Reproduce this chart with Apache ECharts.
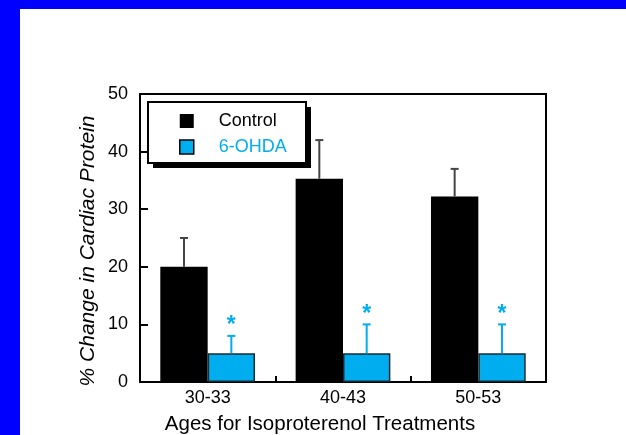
<!DOCTYPE html>
<html>
<head>
<meta charset="utf-8">
<script src="https://cdn.jsdelivr.net/npm/echarts@6/dist/echarts.min.js"></script>
<style>html,body{margin:0;padding:0;background:#fff}#c{width:626px;height:435px}</style>
</head>
<body>
<div id="c"></div>
<script>
const categories = ['30-33', '40-43', '50-53'];
const controlValues = [20, 35.3, 32.2];
const controlUpper = [25, 42, 37];
const ohdaValues = [5, 5, 5];
const ohdaUpper = [8, 10, 10];
const yMin = 0, yMax = 50, yInterval = 10;

const CYAN = '#00AEEF';
const FONT = 'Liberation Sans, Arial, sans-serif';

function errRender(offsetFrac, color, star) {
  return function (params, api) {
    const i = api.value(0);
    const base = api.coord([i, api.value(1)]);
    const top = api.coord([i, api.value(2)]);
    const band = api.size([1, 0])[0];
    const x = base[0] + offsetFrac * band;
    const children = [
      { type: 'line', shape: { x1: x, y1: base[1], x2: x, y2: top[1] }, style: { stroke: color, lineWidth: 2 } },
      { type: 'line', shape: { x1: x - 4, y1: top[1], x2: x + 4, y2: top[1] }, style: { stroke: color, lineWidth: 2 } }
    ];
    if (star) {
      children.push({ type: 'text', style: { text: '*', x: x, y: top[1] - 10, fill: color, fontSize: 23, fontWeight: 'bold', fontFamily: FONT, align: 'center', verticalAlign: 'middle' } });
    }
    return { type: 'group', children: children };
  };
}

const chart = echarts.init(document.getElementById('c'), null, { renderer: 'canvas' });
chart.setOption({
  animation: false,
  backgroundColor: '#fff',
  grid: { left: 140, right: 80, top: 94, bottom: 53, containLabel: false },
  xAxis: [{
    type: 'category', data: categories, boundaryGap: true,
    axisLine: { lineStyle: { color: '#000', width: 2 } },
    axisTick: { show: true, inside: true, length: 6, interval: 0, lineStyle: { color: '#000', width: 2 } },
    axisLabel: { color: '#000', fontSize: 18, fontFamily: FONT, margin: 7 },
    splitLine: { show: false }
  }, {
    type: 'category', data: categories, position: 'top',
    axisLine: { show: true, onZero: false, lineStyle: { color: '#000', width: 2 } },
    axisTick: { show: false }, axisLabel: { show: false }, splitLine: { show: false }
  }],
  yAxis: [{
    type: 'value', min: yMin, max: yMax, interval: yInterval,
    axisLine: { show: true, lineStyle: { color: '#000', width: 2 } },
    axisTick: { show: true, inside: true, length: 8, lineStyle: { color: '#000', width: 2 } },
    axisLabel: { color: '#000', fontSize: 18, fontFamily: FONT, margin: 12 },
    splitLine: { show: false }
  }, {
    type: 'value', min: yMin, max: yMax, interval: yInterval, position: 'right',
    axisLine: { show: true, lineStyle: { color: '#000', width: 2 } },
    axisTick: { show: false }, axisLabel: { show: false }, splitLine: { show: false }
  }],
  legend: {
    orient: 'vertical', left: 179, top: 112, padding: 0,
    itemWidth: 14, itemHeight: 14, itemGap: 8, selectedMode: false,
    textStyle: { fontSize: 18, lineHeight: 14, fontFamily: FONT, padding: [0, 0, 0, 20] },
    data: [
      { name: 'Control', icon: 'rect', textStyle: { color: '#000' }, itemStyle: { color: '#000', borderWidth: 0 } },
      { name: '6-OHDA', icon: 'rect', textStyle: { color: CYAN }, itemStyle: { color: CYAN, borderColor: '#000', borderWidth: 1.5 } }
    ]
  },
  graphic: [
    { type: 'rect', left: 0, top: 0, shape: { width: 20, height: 435 }, style: { fill: '#0000FF' }, z: 10 },
    { type: 'rect', left: 0, top: 0, shape: { width: 626, height: 9 }, style: { fill: '#0000FF' }, z: 10 },
    { type: 'rect', x: 153, y: 107, shape: { width: 158, height: 61 }, style: { fill: '#000' }, z: 3 },
    { type: 'rect', x: 148, y: 102, shape: { width: 158, height: 61 }, style: { fill: '#fff', stroke: '#000', lineWidth: 2 }, z: 3 },
    { type: 'text', x: 88, y: 251, rotation: Math.PI / 2,
      style: { text: '% Change in Cardiac Protein', fontSize: 21, fontStyle: 'italic', fontFamily: FONT, fill: '#000', align: 'center', verticalAlign: 'middle' }, z: 5 },
    { type: 'text', x: 320, y: 424,
      style: { text: 'Ages for Isoproterenol Treatments', fontSize: 20.5, fontFamily: FONT, fill: '#000', align: 'center', verticalAlign: 'middle' }, z: 5 }
  ],
  series: [
    { name: 'Control', type: 'bar', data: controlValues, barWidth: '35%', barGap: '0%',
      itemStyle: { color: '#000' }, z: 2 },
    { name: '6-OHDA', type: 'bar', data: ohdaValues, barWidth: '35%', barGap: '0%',
      itemStyle: { color: CYAN, borderColor: '#1a2a33', borderWidth: 1.5 }, z: 2 },
    { name: 'ctrlErr', type: 'custom', renderItem: errRender(-0.175, '#444', false),
      data: categories.map((c, i) => [i, controlValues[i], controlUpper[i]]), z: 3, silent: true },
    { name: 'ohdaErr', type: 'custom', renderItem: errRender(0.175, CYAN, true),
      data: categories.map((c, i) => [i, ohdaValues[i], ohdaUpper[i]]), z: 3, silent: true }
  ]
});
</script>
</body>
</html>
